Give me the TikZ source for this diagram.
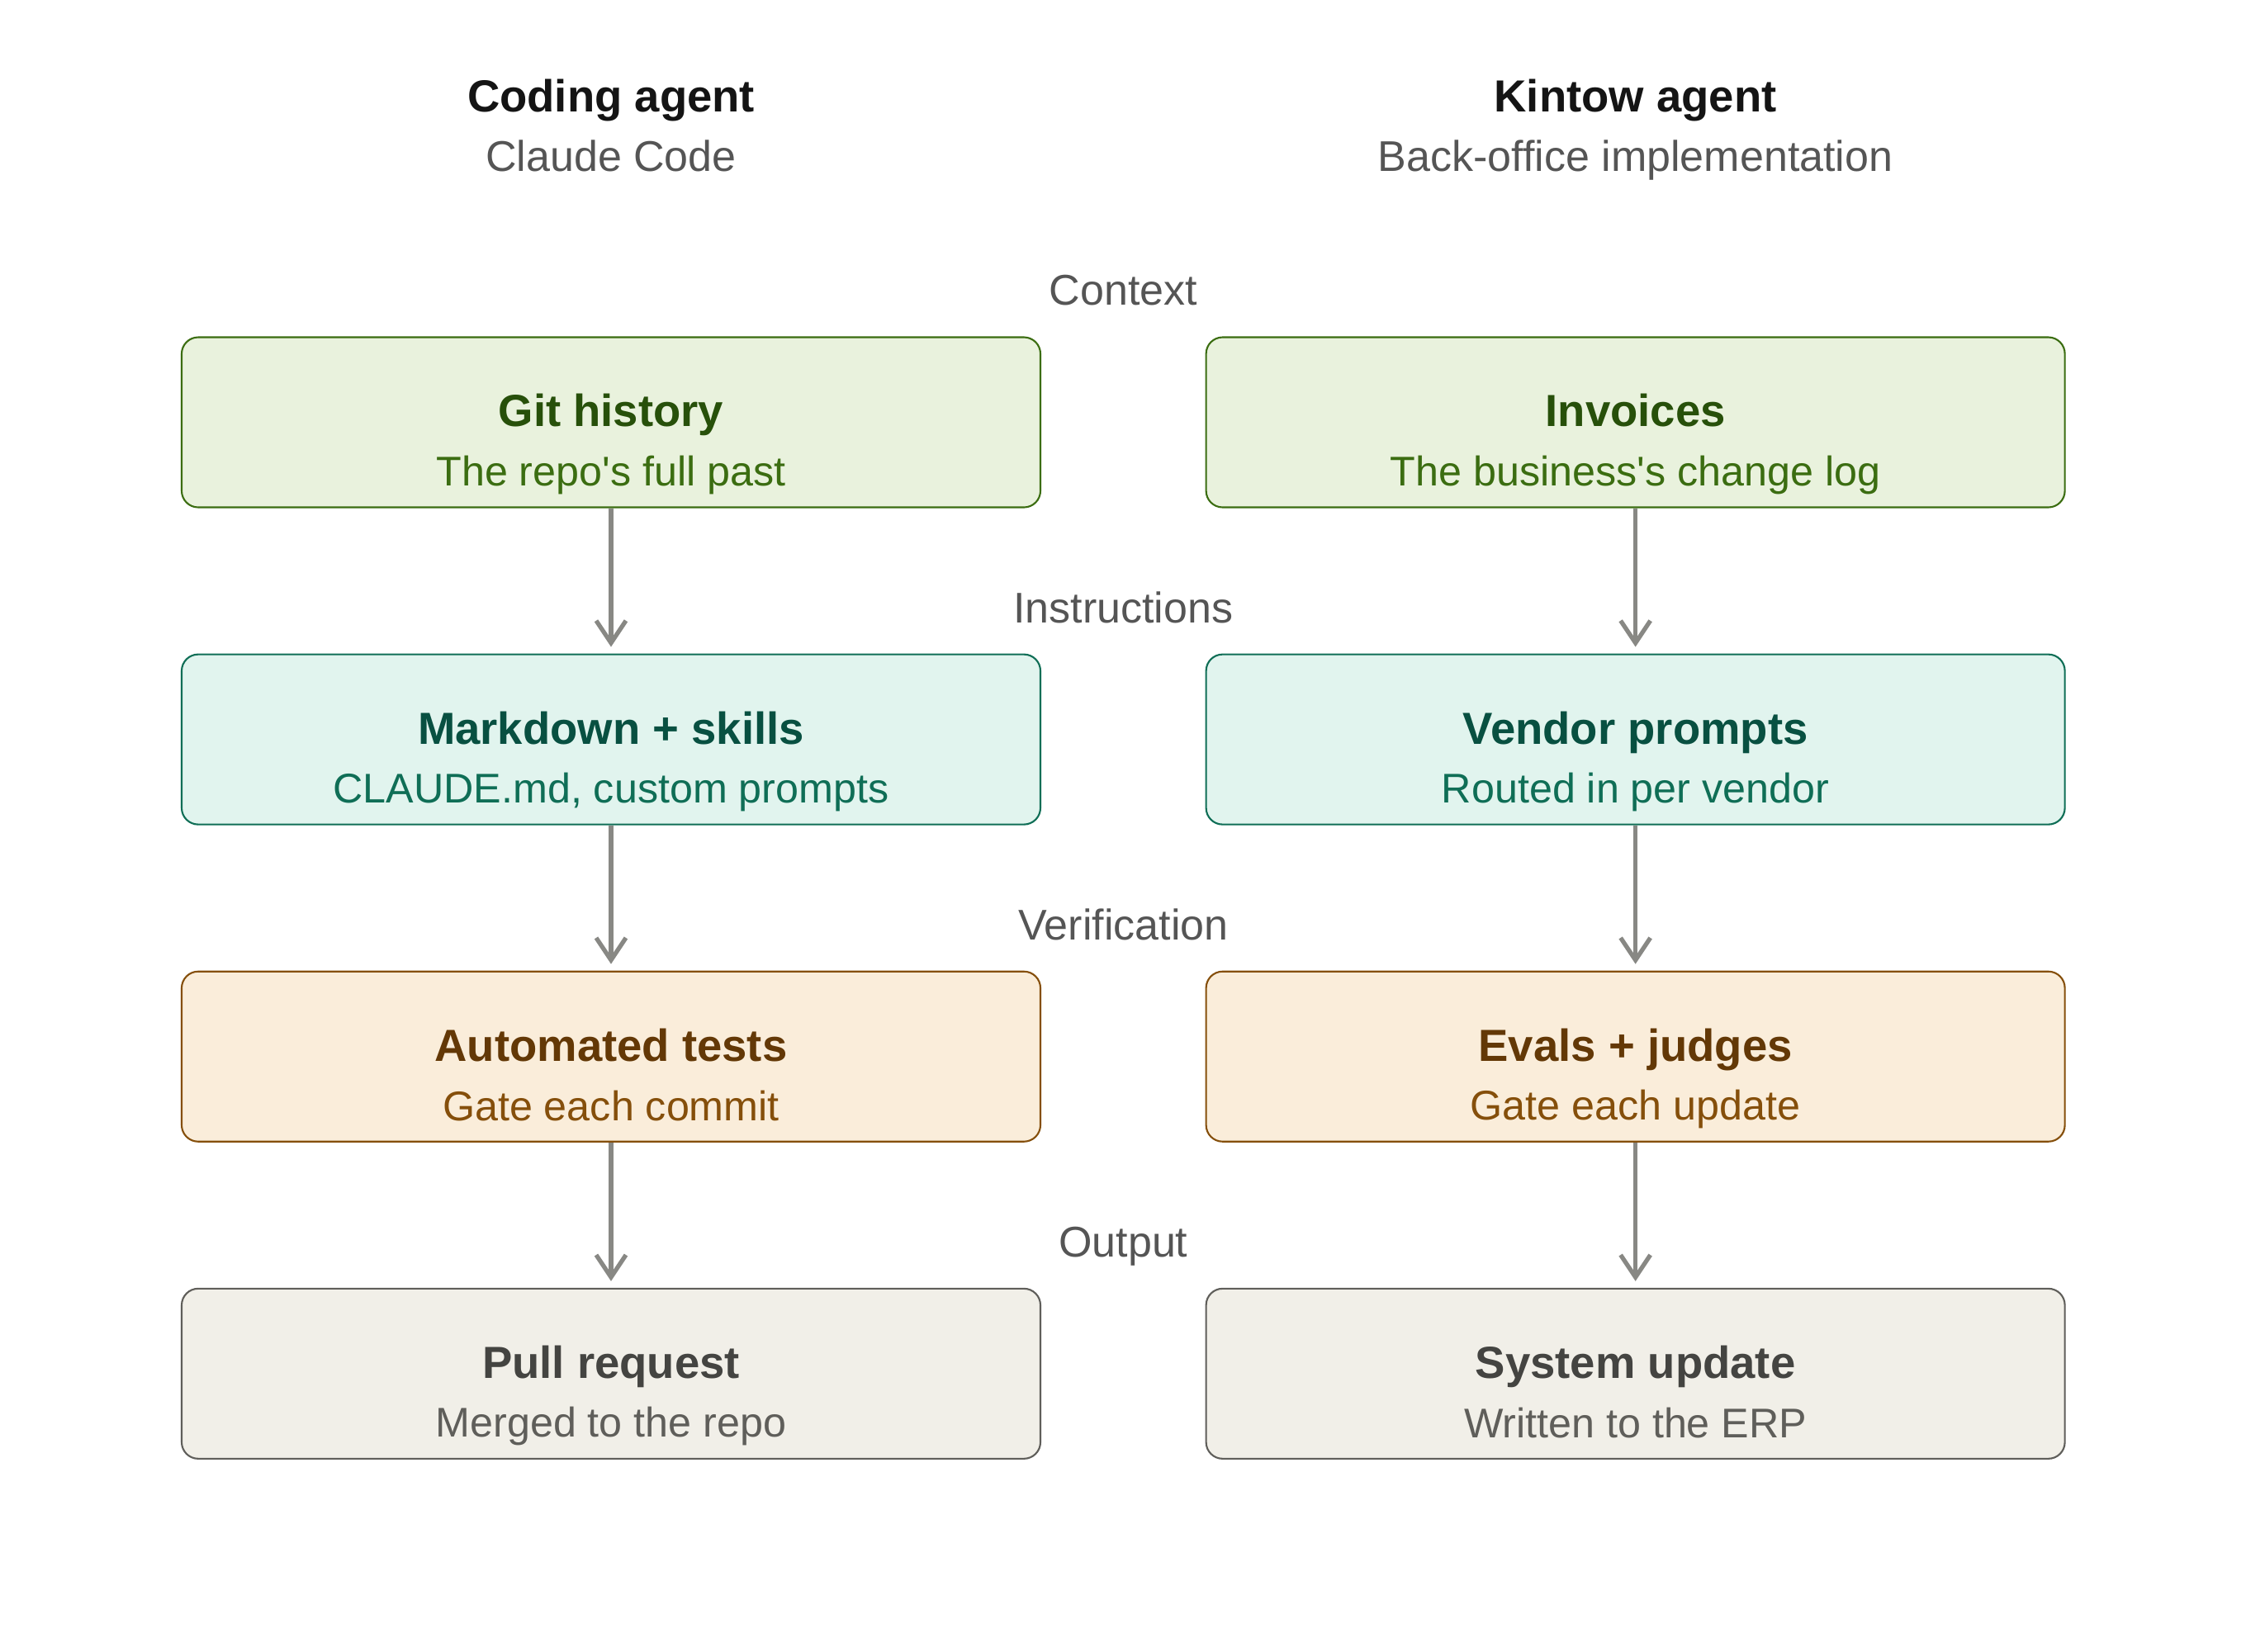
\documentclass[tikz,border=0pt]{standalone}
\usepackage{fontspec}
\setmainfont{Liberation Sans}
\usetikzlibrary{arrows.meta,positioning,calc}
\usepackage{xcolor}

\definecolor{grnfill}{HTML}{E9F2DD}
\definecolor{grndraw}{HTML}{3B6D11}
\definecolor{grnttl}{HTML}{27500A}
\definecolor{tealfill}{HTML}{E1F4EE}
\definecolor{tealdraw}{HTML}{0F6E56}
\definecolor{tealttl}{HTML}{085041}
\definecolor{orgfill}{HTML}{FAEDDA}
\definecolor{orgdraw}{HTML}{854F0B}
\definecolor{orgttl}{HTML}{633806}
\definecolor{gryfill}{HTML}{F1EFE8}
\definecolor{grydraw}{HTML}{5F5E5A}
\definecolor{gryttl}{HTML}{444441}
\definecolor{flowgray}{HTML}{888884}
\definecolor{headblack}{HTML}{141414}
\definecolor{subgray}{HTML}{555555}

% title line + subtitle line of a box
\newcommand{\boxtext}[3]{{\fontsize{15.5}{20.4}\selectfont\bfseries\color{#1}\rule{0pt}{0.93cm}#2}\\#3\rule[-0.1cm]{0pt}{0.1cm}}

\begin{document}
\begin{tikzpicture}[
    node distance=1.76cm and 1.985cm,
    box/.style={rounded corners=0.2cm, line width=0.6pt, minimum width=10.4cm, minimum height=2.06cm, inner sep=0pt, align=center, font=\fontsize{14.3}{20.4}\selectfont},
    grn/.style={box, fill=grnfill, draw=grndraw, text=grndraw},
    teal/.style={box, fill=tealfill, draw=tealdraw, text=tealdraw},
    org/.style={box, fill=orgfill, draw=orgdraw, text=orgdraw},
    gry/.style={box, fill=gryfill, draw=grydraw, text=grydraw},
    flow/.style={-{Straight Barb[length=0.27cm, width=0.36cm, line width=1.5pt]}, line width=1.5pt, draw=flowgray, shorten >=0.08cm},
    head/.style={anchor=base, font=\fontsize{15.5}{19}\selectfont\bfseries, text=headblack},
    subhead/.style={anchor=base, font=\fontsize{14.8}{17}\selectfont, text=subgray},
    phase/.style={anchor=base, font=\fontsize{14.8}{17}\selectfont, text=subgray}
]
\useasboundingbox (0,0) rectangle (27.2,-20);

% left column
\node[grn] (git) at (7.40,-5.115) {\boxtext{grnttl}{Git history}{The repo\textquotesingle s full past}};
\node[teal, below=of git] (md) {\boxtext{tealttl}{Markdown + skills}{CLAUDE.md, custom prompts}};
\node[org, below=of md] (tests) {\boxtext{orgttl}{Automated tests}{Gate each commit}};
\node[gry, below=of tests] (pr) {\boxtext{gryttl}{Pull request}{Merged to the repo}};

% right column
\node[grn, right=of git] (inv) {\boxtext{grnttl}{Invoices}{The business\textquotesingle s change log}};
\node[teal, right=of md] (vendor) {\boxtext{tealttl}{Vendor prompts}{Routed in per vendor}};
\node[org, right=of tests] (evals) {\boxtext{orgttl}{Evals + judges}{Gate each update}};
\node[gry, right=of pr] (sysupd) {\boxtext{gryttl}{System update}{Written to the ERP}};

% column headers
\node[head] (codehd) at ($(git.north)+(0,2.72)$) {Coding agent};
\node[subhead] (codesub) at ($(git.north)+(0,2.00)$) {Claude Code};
\node[head] (kinhd) at ($(inv.north)+(0,2.72)$) {Kintow agent};
\node[subhead] (kinsub) at ($(inv.north)+(0,2.00)$) {Back-office implementation};

% stage labels
\node[phase] (ctx) at ($(git.north east)!0.5!(inv.north west)+(0,0.375)$) {Context};
\node[phase] (instr) at ($(md.north east)!0.5!(vendor.north west)+(0,0.375)$) {Instructions};
\node[phase] (verif) at ($(tests.north east)!0.5!(evals.north west)+(0,0.375)$) {Verification};
\node[phase] (outp) at ($(pr.north east)!0.5!(sysupd.north west)+(0,0.375)$) {Output};

\draw[flow] (git.south) -- (md.north);
\draw[flow] (md.south) -- (tests.north);
\draw[flow] (tests.south) -- (pr.north);
\draw[flow] (inv.south) -- (vendor.north);
\draw[flow] (vendor.south) -- (evals.north);
\draw[flow] (evals.south) -- (sysupd.north);
\end{tikzpicture}
\end{document}
